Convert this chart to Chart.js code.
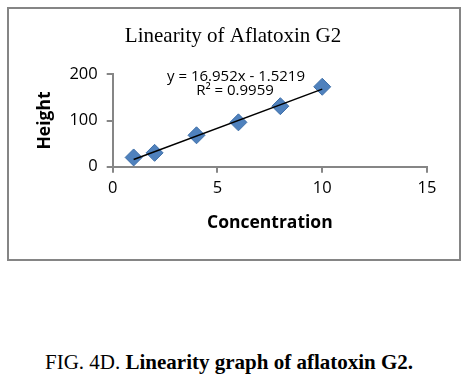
<!DOCTYPE html>
<html>
<head>
<meta charset="utf-8">
<script src="https://cdn.jsdelivr.net/npm/chart.js@4.4.1/dist/chart.umd.min.js"></script>
<style>
  html, body { margin: 0; padding: 0; background: #fff; width: 467px; height: 381px; overflow: hidden; }
  #frame { position: absolute; left: 7px; top: 7px; width: 454px; height: 254px; box-sizing: border-box; border: 2px solid #858585; }
  #wrap { position: absolute; left: 0; top: 0; width: 467px; height: 270px; }
  #caption { position: absolute; left: 45px; top: 350px; font-family: "Liberation Serif", "Times New Roman", serif; font-size: 21px; line-height: 24px; color: #000; white-space: nowrap; }
</style>
</head>
<body>
<div id="frame"></div>
<div id="wrap"><canvas id="c" width="467" height="270"></canvas></div>
<div id="caption">FIG. 4D. <b>Linearity graph of aflatoxin G2.</b></div>
<script>
// Data
const concentration = [1, 2, 4, 6, 8, 10];
const height = [20, 30, 68, 96, 131, 173];
// Linear trendline endpoints (y = 16.952x - 1.5219 at x=1 and x=10)
const trendX = [1, 10];
const trendY = [15.43, 168.0];
const chartTitle = 'Linearity of Aflatoxin G2';
const equationLines = ['y = 16.952x - 1.5219', 'R\u00B2 = 0.9959'];
const xTicks = [0, 5, 10, 15];
const yTicks = [0, 100, 200];

const textPlugin = {
  id: 'texts',
  afterDatasetsDraw(chart) {
    const ctx = chart.ctx;
    ctx.save();
    ctx.fillStyle = '#000';
    ctx.textAlign = 'center';
    ctx.textBaseline = 'middle';
    ctx.font = '21px "Liberation Serif", "Times New Roman", serif';
    ctx.fillText(chartTitle, 233, 36);
    ctx.font = '15px "Open Sans", sans-serif';
    ctx.fillText(equationLines[0], 236, 77);
    ctx.fillText(equationLines[1], 235, 91);
    ctx.restore();
  }
};

new Chart(document.getElementById('c'), {
  type: 'scatter',
  data: {
    datasets: [
      {
        label: 'Height',
        data: concentration.map((x, i) => ({ x: x, y: height[i] })),
        pointStyle: 'rectRot',
        pointRadius: 8.5,
        pointHoverRadius: 8.5,
        backgroundColor: '#4F81BD',
        borderColor: '#3F6FA8',
        borderWidth: 1,
        order: 1
      },
      {
        label: 'Trend',
        data: trendX.map((x, i) => ({ x: x, y: trendY[i] })),
        type: 'line',
        showLine: true,
        borderColor: '#000',
        borderWidth: 1.5,
        pointRadius: 0,
        fill: false,
        order: 0
      }
    ]
  },
  options: {
    responsive: false,
    animation: false,
    events: [],
    layout: { padding: { left: 0, right: 40, top: 74.3, bottom: 0 } },
    plugins: {
      legend: { display: false },
      tooltip: { enabled: false },
      title: { display: false }
    },
    scales: {
      x: {
        type: 'linear',
        min: 0, max: 15,
        afterBuildTicks: (s) => { s.ticks = xTicks.map(v => ({ value: v })); },
        afterFit: (s) => { s.height = 103.3; },
        grid: { drawOnChartArea: false, drawTicks: true, tickLength: 6, color: '#868686', lineWidth: 2 },
        border: { display: true, color: '#868686', width: 2 },
        ticks: { color: '#000', padding: 6, font: { family: '"Open Sans", sans-serif', size: 16.5 } },
        title: { display: true, text: 'Concentration', color: '#000', padding: { top: 0, bottom: 36 }, font: { family: '"Open Sans", sans-serif', size: 17.5, weight: 'bold', lineHeight: 1.2 } }
      },
      y: {
        type: 'linear',
        min: 0, max: 200,
        afterBuildTicks: (s) => { s.ticks = yTicks.map(v => ({ value: v })); },
        afterFit: (s) => { s.width = 112.7; },
        grid: { drawOnChartArea: false, drawTicks: true, tickLength: 6, color: '#868686', lineWidth: 2 },
        border: { display: true, color: '#868686', width: 2 },
        ticks: { color: '#000', padding: 9, font: { family: '"Open Sans", sans-serif', size: 16.5 } },
        title: { display: true, text: 'Height', color: '#000', padding: { top: 35, bottom: 0 }, font: { family: '"Open Sans", sans-serif', size: 17.5, weight: 'bold', lineHeight: 1.2 } }
      }
    }
  },
  plugins: [textPlugin]
});
</script>
</body>
</html>
